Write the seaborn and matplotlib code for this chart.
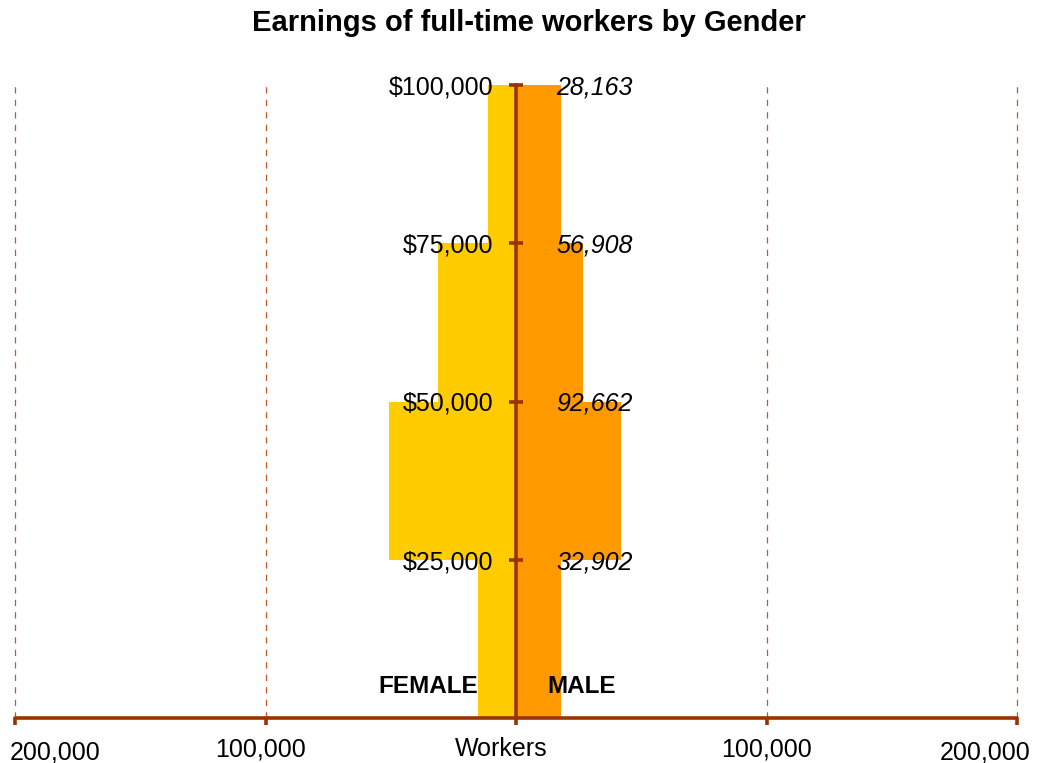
import pandas as pd
import numpy as np
import matplotlib as mpl
import matplotlib.pyplot as plt
import seaborn as sns

# earnings bins (mid points, $) and worker counts
bin_mid = [12500, 37500, 62500, 87500]
female = [15200, 50700, 31100, 11200]
male = [18000, 41900, 26700, 18000]

earn_ticks = [25000, 50000, 75000, 100000]
earn_labels = ["$25,000", "$50,000", "$75,000", "$100,000"]
male_notes = ["32,902", "92,662", "56,908", "28,163"]

x_ticks = [-200000, -100000, 0, 100000, 200000]
x_labels = ["200,000", "100,000", "Workers", "100,000", "200,000"]

sns.set_style("white")
plt.rcParams["font.family"] = ["Liberation Sans", "DejaVu Sans"]
plt.rcParams["text.color"] = "black"
plt.rcParams["xtick.labelcolor"] = "black"
plt.rcParams["ytick.labelcolor"] = "black"

brown = "#993300"

df = pd.DataFrame({
    "earn": bin_mid * 2,
    "workers": [-v for v in female] + male,
    "gender": ["FEMALE"] * 4 + ["MALE"] * 4,
})

fig = plt.figure(figsize=(10.37, 7.63), dpi=100)
ax = fig.add_axes([15 / 1037, 45 / 763, 1002 / 1037, 633 / 763])

sns.barplot(data=df, x="workers", y="earn", hue="gender", orient="h",
            native_scale=True, dodge=False, width=1, legend=False,
            palette={"FEMALE": "#FFCC00", "MALE": "#FF9900"},
            saturation=1, linewidth=0, ax=ax)
for p in ax.patches:
    p.set_zorder(1)

ax.set_xlim(-200000, 200000)
ax.set_ylim(0, 100000)
ax.set_axisbelow(False)

# dashed vertical gridlines
ax.grid(False)
for xv in [-200000, -100000, 100000, 200000]:
    ax.axvline(xv, color="#CC5522", lw=0.9, ls=(0, (5, 5)), zorder=0.5,
               clip_on=False)

for s in ["top", "right"]:
    ax.spines[s].set_visible(False)
ax.spines["left"].set_position(("data", 0))
ax.spines["left"].set_color(brown)
ax.spines["left"].set_linewidth(2.6)
ax.spines["left"].set_zorder(3)
ax.spines["bottom"].set_color(brown)
ax.spines["bottom"].set_linewidth(2.6)
ax.spines["bottom"].set_capstyle("round")

ax.set_yticks(earn_ticks)
ax.set_yticklabels(earn_labels, fontsize=18)
ax.tick_params(axis="y", direction="inout", length=10, width=2.6,
               color=brown, pad=11, left=True)
ax.set_xticks(x_ticks)
ax.set_xticklabels(x_labels, fontsize=18)
ax.tick_params(axis="x", direction="out", length=5, width=2.6,
               color=brown, pad=9, bottom=True)
ax.set_xlabel("")
ax.set_ylabel("")

# outer tick labels pulled inward so they stay on the canvas
shifts = [(40, -3), (-5, 0), (-15, 0), (0, 0), (-32, -3)]
for lab, (dx, dy) in zip(ax.get_xticklabels(), shifts):
    off = mpl.transforms.ScaledTranslation(dx / 100, dy / 100, fig.dpi_scale_trans)
    lab.set_transform(lab.get_transform() + off)

for yv, txt in zip(earn_ticks, male_notes):
    ax.text(46700, yv, txt, fontsize=18, style="italic",
            ha="right", va="center_baseline", zorder=5)

ax.text(-15200, 4900, "FEMALE", fontsize=17.5, fontweight="bold",
        ha="right", va="center", zorder=5)
ax.text(12400, 4900, "MALE", fontsize=17.5, fontweight="bold",
        ha="left", va="center", zorder=5)

fig.text(0.51, 0.970, "Earnings of full-time workers by Gender",
         fontsize=21, fontweight="bold", ha="center", va="center")

fig.savefig("out.png", dpi=100)
